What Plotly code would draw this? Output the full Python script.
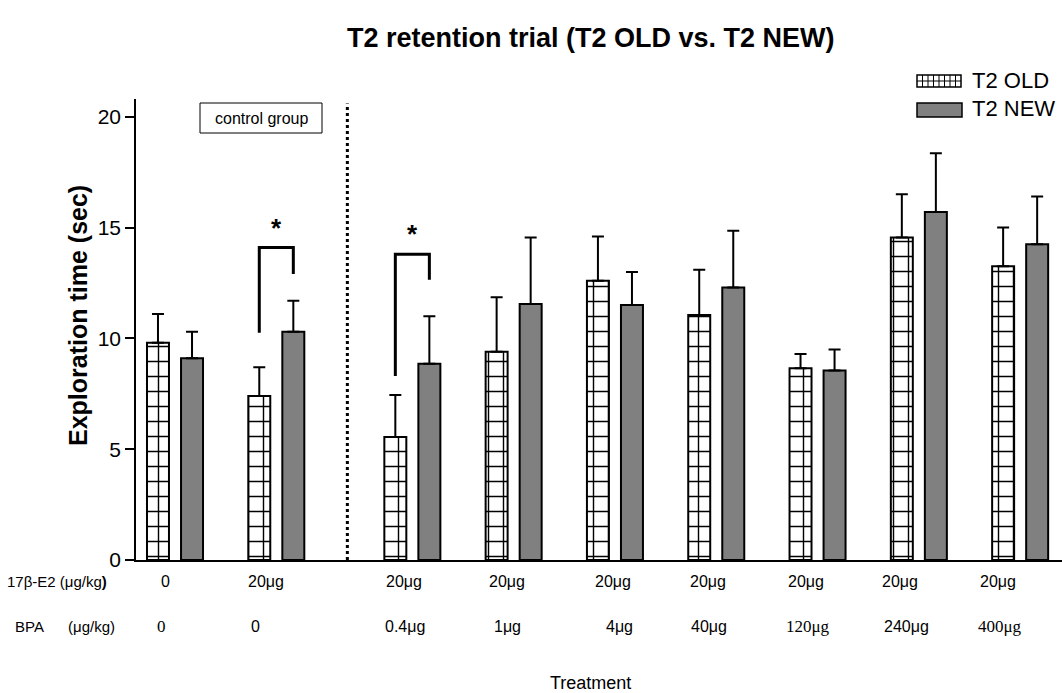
import plotly.graph_objects as go

# ---- data -------------------------------------------------------------
groups = ["ctrl 0", "E2 20", "BPA 0.4", "BPA 1", "BPA 4", "BPA 40", "BPA 120", "BPA 240", "BPA 400"]
old_mean = [9.8, 7.4, 5.55, 9.4, 12.6, 11.05, 8.65, 14.55, 13.25]
old_sem = [1.3, 1.3, 1.9, 2.45, 2.0, 2.05, 0.65, 1.95, 1.75]
new_mean = [9.1, 10.3, 8.85, 11.55, 11.5, 12.3, 8.55, 15.7, 14.25]
new_sem = [1.2, 1.4, 2.15, 3.0, 1.5, 2.55, 0.95, 2.65, 2.15]

e2_labels = ["0", "20\u03bcg", "20\u03bcg", "20\u03bcg", "20\u03bcg", "20\u03bcg", "20\u03bcg", "20\u03bcg", "20\u03bcg"]
bpa_labels = ["0", "0", "0.4\u03bcg", "1\u03bcg", "4\u03bcg", "40\u03bcg", "120\u03bcg", "240\u03bcg", "400\u03bcg"]
bpa_serif = [True, False, False, False, False, False, True, False, True]

# significance brackets: (group index, left foot, top, right foot, star height)
sig_brackets = [(1, 10.25, 14.1, 12.9, 15.0), (2, 8.3, 13.8, 12.65, 14.7)]

# ---- layout helpers ---------------------------------------------------
W, H = 1062, 693
ML, MR, MT, MB = 136, 0, 99, 133
PW, PH = W - ML - MR, H - MT - MB
Y_MAX = 20.8

GAP_AFTER = 1          # extra space after the control groups
GAP = 0.343
pos = [i + (GAP if i > GAP_AFTER else 0) for i in range(len(groups))]
OFF, BW = 0.168, 0.217
X_RANGE = [-0.385, -0.385 + PW / 101.3]


def px(xpix):
    return (xpix - ML) / PW


def py(ypix):
    return (H - MB - ypix) / PH


FONT = "Arial, Liberation Sans, sans-serif"
SERIF = "Times New Roman, Liberation Serif, serif"


def label(xpix, ypix, text, size, family=FONT, xanchor="center", **kw):
    return dict(x=px(xpix), y=py(ypix), xref="paper", yref="paper", text=text,
                xanchor=xanchor, yanchor="middle", showarrow=False,
                font=dict(family=family, size=size, color="black"), **kw)


fig = go.Figure()

fig.add_trace(go.Bar(
    x=[p - OFF for p in pos], y=old_mean, width=BW, name="T2 OLD",
    marker=dict(color="white", line=dict(color="black", width=2),
                pattern=dict(shape="+", size=15, solidity=0.18, fillmode="replace",
                             fgcolor="black", fgopacity=1, bgcolor="white")),
    error_y=dict(type="data", array=old_sem, arrayminus=[0] * len(old_sem),
                 symmetric=False, color="black", thickness=2, width=6),
    showlegend=False,
))
fig.add_trace(go.Bar(
    x=[p + OFF for p in pos], y=new_mean, width=BW, name="T2 NEW",
    marker=dict(color="#808080", line=dict(color="black", width=2)),
    error_y=dict(type="data", array=new_sem, arrayminus=[0] * len(new_sem),
                 symmetric=False, color="black", thickness=2, width=6),
    showlegend=False,
))

shapes = []
annotations = []

# dotted separator between control and treatment groups
sep_x = (pos[1] + pos[2]) / 2 + 0.03
shapes.append(dict(type="line", xref="x", yref="y", x0=sep_x, x1=sep_x, y0=0, y1=20.6,
                   line=dict(color="black", width=3, dash="dot")))

# significance brackets and stars
for g, yl, yt, yr, ys in sig_brackets:
    xl, xr = pos[g] - OFF, pos[g] + OFF
    shapes.append(dict(type="path", xref="x", yref="y",
                       path=f"M {xl} {yl} L {xl} {yt} L {xr} {yt} L {xr} {yr}",
                       line=dict(color="black", width=3)))
    annotations.append(dict(x=pos[g], y=ys, xref="x", yref="y", text="<b>*</b>",
                            xanchor="center", yanchor="middle", showarrow=False,
                            font=dict(family=FONT, size=26, color="black")))

# "control group" label box
shapes.append(dict(type="rect", xref="paper", yref="paper",
                   x0=px(200), x1=px(322), y0=py(133), y1=py(103),
                   line=dict(color="black", width=1), fillcolor="white"))
annotations.append(label(261, 118, "control group", 16))

# legend
shapes.append(dict(type="rect", xref="paper", yref="paper",
                   x0=px(917), x1=px(961), y0=py(87), y1=py(75),
                   line=dict(color="black", width=1.5), fillcolor="white"))
xv = 917 + 5.5
while xv < 961:
    shapes.append(dict(type="line", xref="paper", yref="paper", x0=px(xv), x1=px(xv),
                       y0=py(87), y1=py(75), line=dict(color="black", width=1)))
    xv += 5.5
shapes.append(dict(type="line", xref="paper", yref="paper", x0=px(917), x1=px(961),
                   y0=py(81), y1=py(81), line=dict(color="black", width=1)))
shapes.append(dict(type="rect", xref="paper", yref="paper",
                   x0=px(917), x1=px(962), y0=py(117), y1=py(103),
                   line=dict(color="black", width=1.5), fillcolor="#808080"))
annotations.append(label(970, 80, "T2 OLD", 22, xanchor="left"))
annotations.append(label(970, 109, "T2 NEW", 22, xanchor="left"))

# treatment description rows
row1_x = [165, 266, 404, 507, 613, 708, 806, 900, 998]
row2_x = [161, 255, 405, 507, 619, 709, 808, 906, 1000]
ROW1_Y, ROW2_Y = 581, 626
annotations.append(label(5, ROW1_Y, "17\u03b2-E2 (\u03bcg/kg<b>)</b>", 15, xanchor="left"))
annotations.append(label(13, ROW2_Y, "BPA      (\u03bcg/kg)", 15, xanchor="left"))
for lab, xc in zip(e2_labels, row1_x):
    annotations.append(label(xc, ROW1_Y, lab, 16))
for lab, xc, serif in zip(bpa_labels, row2_x, bpa_serif):
    annotations.append(label(xc, ROW2_Y, lab, 17 if serif else 16,
                             family=SERIF if serif else FONT))
annotations.append(label(590, 683, "Treatment", 18))

# axis title and chart title
annotations.append(label(78, 316, "<b>Exploration time (sec)</b>", 25, textangle=-90))
annotations.append(label(591, 38, "<b>T2 retention trial (T2 OLD vs. T2 NEW)</b>", 27))

fig.update_layout(
    width=W, height=H,
    margin=dict(l=ML, r=MR, t=MT, b=MB, pad=0),
    paper_bgcolor="white", plot_bgcolor="white",
    barmode="overlay",
    shapes=shapes, annotations=annotations,
    font=dict(family=FONT, color="black"),
    xaxis=dict(range=X_RANGE, showgrid=False, zeroline=False, showticklabels=False,
               ticks="", showline=True, linecolor="black", linewidth=2, fixedrange=True),
    yaxis=dict(range=[0, Y_MAX], showgrid=False, zeroline=False, showline=True,
               linecolor="black", linewidth=1.5, ticks="outside", ticklen=9, tickwidth=1.5,
               tickcolor="black", tickvals=[0, 5, 10, 15, 20],
               tickfont=dict(family=FONT, size=21, color="black"), fixedrange=True),
)

fig.write_html("out.html")
